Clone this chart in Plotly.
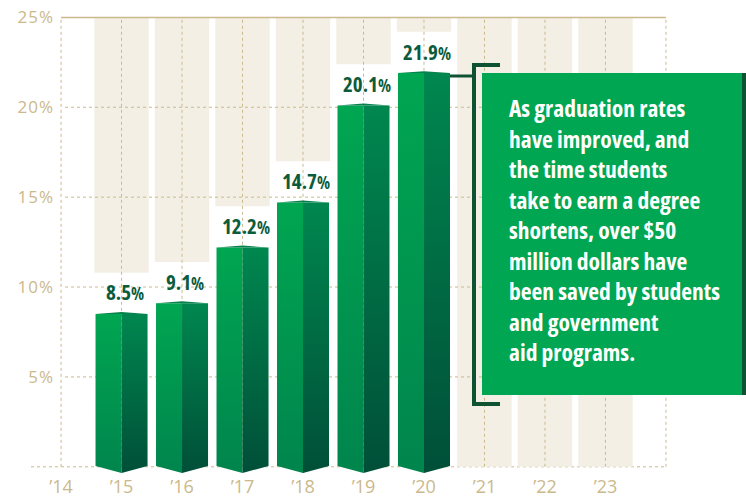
import plotly.graph_objects as go

# ---------------- data ----------------
tick_years = [14, 15, 16, 17, 18, 19, 20, 21, 22, 23]
tick_labels = ["’14", "’15", "’16", "’17", "’18", "’19", "’20", "’21", "’22", "’23"]
bar_years = [15, 16, 17, 18, 19, 20]
rates = [8.5, 9.1, 12.2, 14.7, 20.1, 21.9]
rate_labels = ["8.5", "9.1", "12.2", "14.7", "20.1", "21.9"]
bg_years = [15, 16, 17, 18, 19, 20, 21, 22, 23]
y_ticks = [5, 10, 15, 20, 25]
y_tick_labels = ["5%", "10%", "15%", "20%", "25%"]
note_lines = ["As graduation rates", "have improved, and", "the time students",
              "take to earn a degree", "shortens, over $50", "million dollars have",
              "been saved by students", "and government", "aid programs."]

# ---------------- styling ----------------
W, H = 746, 502
ML, MR, MT, MB = 55, 74, 12, 28
XR = [13.9, 24.1]
YR = [-0.4, 25.3]
TAN = "#CBB98C"
BEIGE = "#F3EFE5"
LABEL_GREEN = "#0B5C3C"
BOX_GREEN = "#00A651"
DARK = "#0E5233"
COND = "Open Sans"
COND_STYLE = "font-stretch:75%"
LABEL_STYLE = "font-stretch:87.5%"

pw = W - ML - MR
ph = H - MT - MB


def px2x(p):
    return XR[0] + (p - ML) / pw * (XR[1] - XR[0])


def bx(p):
    return (p - ML) / pw


def by(p):
    return 1 - (p - MT) / ph


fig = go.Figure()

HALF = 0.43
PEAK = 0.11
BOT_MID = -0.35
BOT_CORNER = 0.05

for yr, v in zip(bar_years, rates):
    L, M, R = yr - HALF, yr, yr + HALF
    fig.add_trace(go.Scatter(
        x=[L, M, M, L, L], y=[v, v, BOT_MID, BOT_CORNER, v],
        fill="toself", mode="lines", line=dict(width=0),
        fillgradient=dict(type="vertical", colorscale=[[0, "#00854D"], [1, "#00A651"]]),
        hoverinfo="skip", showlegend=False))
    fig.add_trace(go.Scatter(
        x=[M, R, R, M, M], y=[v, v, BOT_CORNER, BOT_MID, v],
        fill="toself", mode="lines", line=dict(width=0),
        fillgradient=dict(type="vertical", colorscale=[[0, "#004F38"], [1, "#00874F"]]),
        hoverinfo="skip", showlegend=False))
    fig.add_trace(go.Scatter(
        x=[L, M, R, M, L], y=[v, v + PEAK, v, v, v],
        fill="toself", mode="lines", line=dict(width=0),
        fillcolor="#07824C", hoverinfo="skip", showlegend=False))

shapes = []
for yr in bg_years:
    base = 0
    if yr in bar_years:
        base = rates[bar_years.index(yr)] + 2.3
    shapes.append(dict(type="rect", xref="x", yref="y", x0=yr - 0.45, x1=yr + 0.45,
                       y0=base, y1=25, fillcolor=BEIGE, line=dict(width=0), layer="below"))
for t in [5, 10, 15, 20]:
    shapes.append(dict(type="line", xref="x", yref="y", x0=px2x(65), x1=24, y0=t, y1=t,
                       line=dict(color=TAN, width=1, dash="dot"), layer="below"))
shapes.append(dict(type="line", xref="paper", yref="y", x0=bx(31), x1=bx(666), y0=0, y1=0,
                   line=dict(color=TAN, width=1, dash="dot"), layer="below"))
for yr in tick_years + [24]:
    shapes.append(dict(type="line", xref="x", yref="y", x0=yr, x1=yr, y0=0, y1=25,
                       line=dict(color=TAN, width=1, dash="dot"), layer="below"))
shapes.append(dict(type="line", xref="x", yref="y", x0=14, x1=24, y0=25, y1=25,
                   line=dict(color=TAN, width=1.5), layer="below"))

# text box + bracket
shapes.append(dict(type="rect", xref="paper", yref="paper",
                   x0=bx(482), x1=bx(742), y0=by(395), y1=by(73),
                   fillcolor=BOX_GREEN, line=dict(width=0), layer="above"))
shapes.append(dict(type="rect", xref="paper", yref="paper",
                   x0=bx(742), x1=bx(746), y0=by(395), y1=by(73),
                   fillcolor=DARK, line=dict(width=0), layer="above"))
shapes.append(dict(type="path", xref="paper", yref="paper",
                   path=f"M {bx(500)} {by(65)} L {bx(474)} {by(65)} L {bx(474)} {by(404)} L {bx(500)} {by(404)}",
                   line=dict(color=DARK, width=4), layer="above"))
shapes.append(dict(type="line", xref="paper", yref="paper",
                   x0=bx(450), x1=bx(474), y0=by(76), y1=by(76),
                   line=dict(color=DARK, width=3), layer="above"))

annotations = []
for yr, v, lab in zip(bar_years, rates, rate_labels):
    annotations.append(dict(
        x=yr, y=v + 1.2, xref="x", yref="y", xanchor="center", yanchor="middle",
        xshift=3, showarrow=False,
        text=f"<span style='{LABEL_STYLE}'><b>{lab}<span style='font-size:17px'>%</span></b></span>",
        font=dict(family=COND, size=21, color=LABEL_GREEN)))

note_html = "<br>".join(f"<span style='{COND_STYLE}'><b>{ln}</b></span>" for ln in note_lines)
annotations.append(dict(
    x=bx(507), y=by(90), xref="paper", yref="paper",
    xanchor="left", yanchor="top", align="left", showarrow=False,
    text=note_html,
    font=dict(family=COND, size=23.5, color="white")))

fig.update_layout(
    width=W, height=H,
    margin=dict(l=ML, r=MR, t=MT, b=MB, autoexpand=False),
    paper_bgcolor="white", plot_bgcolor="white",
    shapes=shapes, annotations=annotations,
    showlegend=False,
    xaxis=dict(range=XR, showgrid=False, zeroline=False, showline=False, automargin=False,
               tickmode="array", tickvals=tick_years, ticktext=tick_labels,
               ticks="", tickfont=dict(family="Open Sans", size=18, color=TAN),
               fixedrange=True),
    yaxis=dict(range=YR, showgrid=False, zeroline=False, showline=False, automargin=False,
               tickmode="array", tickvals=y_ticks,
               ticktext=[f"<span style='letter-spacing:1px'>{t}</span>" for t in y_tick_labels],
               ticks="", ticklabelstandoff=0,
               tickfont=dict(family="Open Sans", size=17, color=TAN),
               fixedrange=True),
)

fig.write_html("out.html", config={"displayModeBar": False},
               post_script="document.body.style.margin='0';document.body.style.overflow='hidden';")
